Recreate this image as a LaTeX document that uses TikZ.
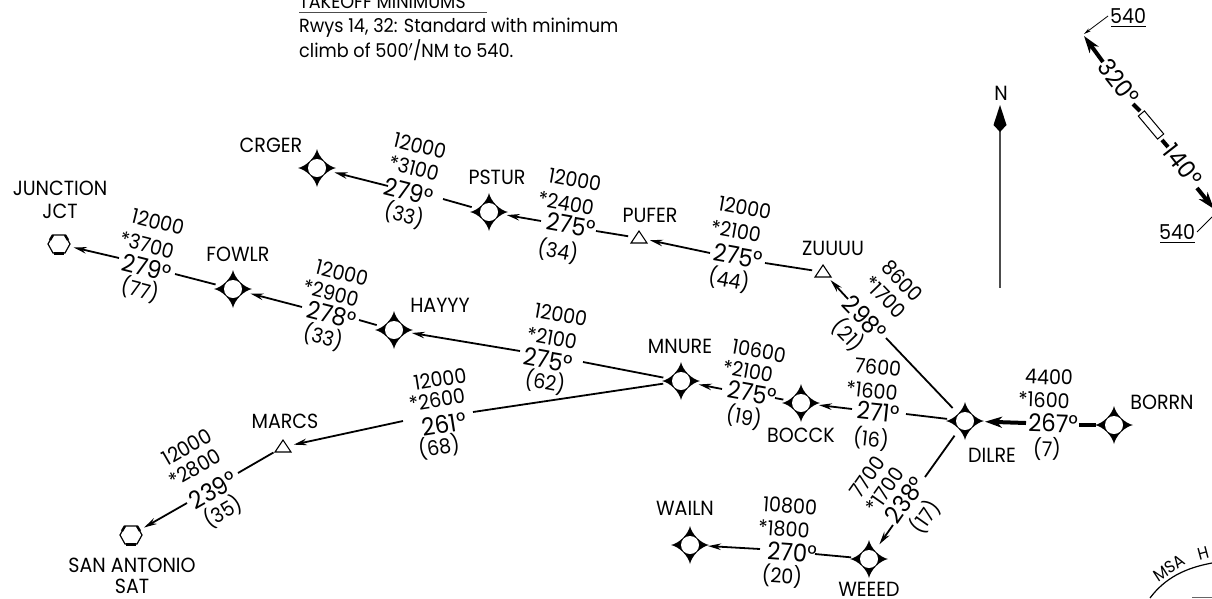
\documentclass[tikz,border=0pt]{standalone}
\usepackage{fontspec}
\setmainfont[FakeStretch=0.93]{Poppins}
\usetikzlibrary{arrows.meta}
\tikzset{
  fixpt/.style={circle,minimum size=36pt,inner sep=0pt,outer sep=0pt},
  tript/.style={circle,minimum size=22pt,inner sep=0pt,outer sep=0pt},
  hexpt/.style={circle,minimum size=30pt,inner sep=0pt,outer sep=0pt},
  wname/.style={inner sep=0pt,font=\fontsize{20.5}{20}\selectfont},
  altt/.style={inner sep=0pt,font=\fontsize{20.5}{20}\selectfont},
  crsn/.style={inner sep=0pt,font=\fontsize{24.5}{24}\selectfont},
  notet/.style={inner sep=0pt,anchor=west,font=\fontsize{19}{19}\selectfont},
  legl/.style={line width=1.8pt,line cap=butt},
  arrl/.style={legl,-{Stealth[length=13pt,width=6.5pt]}},
  thkl/.style={line width=4pt,line cap=butt},
  thkarr/.style={line width=4pt,line cap=butt,-{Stealth[length=17pt,width=11pt,inset=5pt]}},
  thinarr/.style={line width=0.8pt,-{Stealth[length=7pt,width=3.5pt]}}
}
\newcommand\starmark[1]{%
  \fill[black] (#1) ++(0,-19) .. controls +(1.5,8) and +(-8,-1.5) .. ++(19,19)
     .. controls +(-8,1.5) and +(1.5,-8) .. ++(-19,19)
     .. controls +(-1.5,-8) and +(8,1.5) .. ++(-19,-19)
     .. controls +(8,-1.5) and +(-1.5,8) .. ++(19,-19) -- cycle;
  \fill[white] (#1) circle (9pt);}
\newcommand\trimark[1]{%
  \filldraw[fill=white,draw=black,line width=1.1pt] (#1) ++(0,-7) -- ++(8,12) -- ++(-16,0) -- cycle;}
\newcommand\hexmark[1]{%
  \filldraw[fill=white,draw=black,line width=1.2pt] (#1) ++(-11,0) -- ++(5,-9) -- ++(12,0) -- ++(5,9) -- ++(-5,9) -- ++(-12,0) -- cycle;
  \draw[line width=3pt] (#1) ++(-5,9) -- ++(10,0);
  \draw[line width=2.4pt] (#1) ++(-9,-4) -- ++(3,-5) ++(12,0) -- ++(3,5);}
\newcommand\lbl[6][altt]{\node[#1,rotate=#5] (#2) at (#3,#4) {#6};}
\begin{document}
\begin{tikzpicture}[x=1pt,y=-1pt]
\useasboundingbox (0,0) rectangle (1212,598);
\fill[white] (0,0) rectangle (1212,598);
% fixes
\node[fixpt] (crger) at (317,168) {};
\node[fixpt] (pstur) at (489,212) {};
\node[tript] (pufer) at (639,238) {};
\node[tript] (zuuuu) at (823,272) {};
\node[fixpt] (fowlr) at (233,289) {};
\node[fixpt] (hayyy) at (394,330) {};
\node[hexpt] (jct) at (59,244) {};
\node[fixpt] (mnure) at (681,381) {};
\node[fixpt] (bocck) at (801,403) {};
\node[fixpt] (dilre) at (965,421) {};
\node[fixpt] (borrn) at (1114,425) {};
\node[tript] (marcs) at (283,447) {};
\node[hexpt] (sat) at (131,535) {};
\node[fixpt] (weeed) at (869,559) {};
\node[fixpt] (wailn) at (690,545) {};
% break points
\coordinate (a1) at (119,258); \coordinate (a2) at (175,274);
\coordinate (b1) at (302,307); \coordinate (b2) at (359,320);
\coordinate (c1) at (520,351); \coordinate (c2) at (583,362);
\coordinate (d1) at (722,389); \coordinate (d2) at (775,398);
\coordinate (e1) at (852,409); \coordinate (e2) at (906,414);
\coordinate (f1) at (1026,423); \coordinate (f2) at (1079,425);
\coordinate (g1) at (848,299); \coordinate (g2) at (886,338);
\coordinate (h1) at (710,253); \coordinate (h2) at (765,263);
\coordinate (i1) at (541,221); \coordinate (i2) at (596,231);
\coordinate (j1) at (388,186); \coordinate (j2) at (443,199);
\coordinate (k1) at (403,421); \coordinate (k2) at (473,412);
\coordinate (l1) at (187,503); \coordinate (l2) at (238,473);
\coordinate (m1) at (893,525); \coordinate (m2) at (925,477);
\coordinate (n1) at (760,549); \coordinate (n2) at (815,554);
% connectors
\draw[arrl] (a1) -- (jct); \draw[legl] (a2) -- (fowlr);
\draw[arrl] (b1) -- (fowlr); \draw[legl] (b2) -- (hayyy);
\draw[arrl] (c1) -- (hayyy); \draw[legl] (c2) -- (mnure);
\draw[arrl] (d1) -- (mnure); \draw[legl] (d2) -- (bocck);
\draw[arrl] (e1) -- (bocck); \draw[legl] (e2) -- (dilre);
\draw[thkarr,shorten >=2pt] (f1) -- (dilre); \draw[thkl] (f2) -- (borrn);
\draw[arrl] (g1) -- (zuuuu); \draw[legl] (g2) -- (dilre);
\draw[arrl] (h1) -- (pufer); \draw[legl] (h2) -- (zuuuu);
\draw[arrl] (i1) -- (pstur); \draw[legl] (i2) -- (pufer);
\draw[arrl] (j1) -- (crger); \draw[legl] (j2) -- (pstur);
\draw[arrl] (k1) -- (marcs); \draw[legl] (k2) -- (mnure);
\draw[arrl] (l1) -- (sat); \draw[legl] (l2) -- (marcs);
\draw[arrl] (m1) -- (weeed); \draw[legl] (m2) -- (dilre);
\draw[arrl] (n1) -- (wailn); \draw[legl] (n2) -- (weeed);
% symbols
\starmark{crger}\starmark{pstur}\starmark{fowlr}\starmark{hayyy}\starmark{mnure}
\starmark{bocck}\starmark{dilre}\starmark{borrn}\starmark{weeed}\starmark{wailn}
\trimark{pufer}\trimark{zuuuu}\trimark{marcs}
\hexmark{jct}\hexmark{sat}
% names
\lbl[wname]{tcrger}{271}{145}{0}{CRGER}
\lbl[wname]{tpstur}{497}{177}{0}{PSTUR}
\lbl[wname]{tpufer}{650}{215}{0}{PUFER}
\lbl[wname]{tzuuuu}{833}{248}{0}{ZUUUU}
\lbl[wname]{tjunc}{60}{188}{0}{JUNCTION}
\lbl[wname]{tjct}{60}{211}{0}{JCT}
\lbl[wname]{tfowlr}{238}{254}{0}{FOWLR}
\lbl[wname]{thayyy}{440}{305}{0}{HAYYY}
\lbl[wname]{tmnure}{680}{346}{0}{MNURE}
\lbl[wname]{tbocck}{801}{435}{0}{BOCCK}
\lbl[wname]{tdilre}{992}{455}{0}{DILRE}
\lbl[wname]{tborrn}{1162}{402}{0}{BORRN}
\lbl[wname]{tweeed}{869}{589}{0}{WEEED}
\lbl[wname]{twailn}{685}{508}{0}{WAILN}
\lbl[wname]{tmarcs}{285}{421}{0}{MARCS}
\lbl[wname]{tsa}{132}{565}{0}{SAN ANTONIO}
\lbl[wname]{tsat}{132}{586}{0}{SAT}
% leg data
\lbl{a3}{158}{222}{-14}{12000}\lbl{a4}{147}{245}{-14}{*3700}\lbl[crsn]{a5}{147}{268}{-14}{279°}\lbl{a6}{140}{290}{-14}{(77)}
\lbl{b3}{342}{273}{-14}{12000}\lbl{b4}{331}{293}{-14}{*2900}\lbl[crsn]{b5}{332}{315}{-14}{278°}\lbl{b6}{323}{337}{-14}{(33)}
\lbl{j3}{420}{146}{-14}{12000}\lbl{j4}{414}{168}{-14}{*3100}\lbl[crsn]{j5}{409}{192}{-14}{279°}\lbl{j6}{404}{215}{-14}{(33)}
\lbl{i3}{575}{180}{-10}{12000}\lbl{i4}{566}{203}{-10}{*2400}\lbl[crsn]{i5}{571}{225}{-10}{275°}\lbl{i6}{558}{251}{-10}{(34)}
\lbl{h3}{745}{208}{-10}{12000}\lbl{h4}{736}{231}{-10}{*2100}\lbl[crsn]{h5}{738}{256}{-10}{275°}\lbl{h6}{729}{280}{-10}{(44)}
\lbl{c3}{561}{315}{-10}{12000}\lbl{c4}{552}{338}{-10}{*2100}\lbl[crsn]{c5}{548}{360}{-10}{275°}\lbl{c6}{545}{382}{-10}{(62)}
\lbl{g3}{902}{281}{-46}{8600}\lbl{g4}{885}{297}{-46}{*1700}\lbl[crsn]{g5}{865}{318}{-46}{298°}\lbl{g6}{848}{335}{-46}{(21)}
\lbl{d3}{759}{351}{-10}{10600}\lbl{d4}{748}{371}{-10}{*2100}\lbl[crsn]{d5}{752}{393}{-10}{275°}\lbl{d6}{744}{417}{-10}{(19)}
\lbl{e3}{878}{367}{-6}{7600}\lbl{e4}{872}{391}{-6}{*1600}\lbl[crsn]{e5}{878}{412}{-6}{271°}\lbl{e6}{871}{439}{-6}{(16)}
\lbl{f3}{1049}{377}{-2}{4400}\lbl{f4}{1044}{400}{-2}{*1600}\lbl[crsn]{f5}{1053}{423}{-2}{267°}\lbl{f6}{1047}{449}{-2}{(7)}
\lbl{k3}{440}{379}{9}{12000}\lbl{k4}{437}{400}{9}{*2600}\lbl[crsn]{k5}{444}{424}{9}{261°}\lbl{k6}{439}{447}{9}{(68)}
\lbl{l3}{187}{447}{30}{12000}\lbl{l4}{195}{468}{30}{*2800}\lbl[crsn]{l5}{213}{490}{30}{239°}\lbl{l6}{223}{512}{30}{(35)}
\lbl{m3}{867}{477}{55}{7700}\lbl{m4}{885}{490}{55}{*1700}\lbl[crsn]{m5}{905}{500}{55}{238°}\lbl{m6}{925}{517}{55}{(17)}
\lbl{n3}{790}{506}{-4}{10800}\lbl{n4}{784}{529}{-4}{*1800}\lbl[crsn]{n5}{792}{552}{-4}{270°}\lbl{n6}{782}{576}{-4}{(20)}
% takeoff note
\node[notet] (toh) at (299,2) {TAKEOFF MINIMUMS};
\draw[black!70,line width=1pt] (299,12) -- (487,12);
\node[notet] (to1) at (299,28) {Rwys 14, 32: Standard with minimum};
\node[notet] (to2) at (299,50) {climb of 500$'$/NM to 540.};
% north
\node[wname] (north) at (1001,93) {N};
\draw[black!70,line width=1.2pt] (1000,130) -- (1000,288);
\fill[black] (1000,105) -- (1006.5,125) -- (1000,132) -- (993.5,125) -- cycle;
% runway
\node[wname] (r540a) at (1128,16) {540};
\draw[line width=1pt] (1111,26) -- (1146,26);
\coordinate (r1) at (1108,16); \coordinate (r2) at (1084,34);
\draw[thinarr] (r1) -- (r2);
\coordinate (r3) at (1103,62); \coordinate (r4) at (1084,36);
\draw[thkarr] (r3) -- (r4);
\node[crsn,rotate=-52] (r320) at (1119,82) {320°};
\draw[line width=4pt] (1133,104) -- (1140,111);
\node[draw,fill=white,line width=1pt,minimum width=30pt,minimum height=8pt,inner sep=0pt,rotate=-50] (rwy) at (1151,125) {};
\draw[line width=4pt] (1162,140) -- (1168,147);
\node[crsn,rotate=-52] (r140) at (1183,165) {140°};
\coordinate (r5) at (1197,188); \coordinate (r6) at (1214,209);
\draw[thkarr] (r5) -- (r6);
\node[wname] (r540b) at (1177,232) {540};
\draw[line width=1pt] (1160,242) -- (1195,242);
\coordinate (r7) at (1197,232); \coordinate (r8) at (1212,217);
\draw[line width=.8pt] (r7) -- (r8);
% MSA
\draw[line width=1.2pt] (1150,598) .. controls (1165,578) and (1185,568) .. (1212,563);
\node[inner sep=0pt,rotate=33,font=\fontsize{17}{17}\selectfont] (msa) at (1169,568) {MSA};
\node[inner sep=0pt,rotate=15,font=\fontsize{17}{17}\selectfont] (msah) at (1203,553) {H};
\draw[black!60,line width=1pt] (1192,597) -- (1212,597);
\end{tikzpicture}
\end{document}
